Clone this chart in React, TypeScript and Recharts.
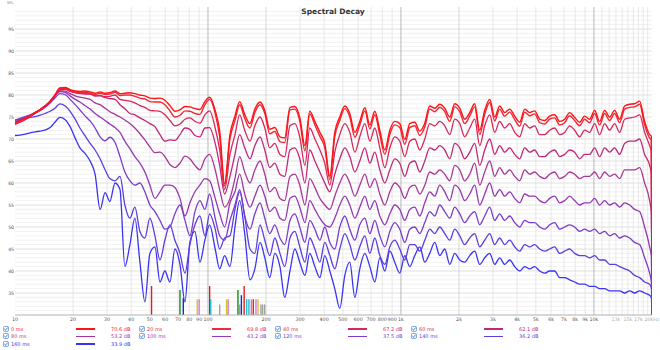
import React from "react";
import { LineChart, Line, XAxis, YAxis, ReferenceLine } from "recharts";

const freqs = [
  10, 10.6, 11.3, 12, 12.7, 13.5, 14.3, 15.2, 16.1, 17.1,
  18.2, 19.3, 20.5, 21.7, 23, 24.5, 26, 27.6, 29.3, 31,
  33, 35, 37.1, 39.4, 41.8, 44.4, 47.1, 50, 53.1, 56.4,
  59.8, 63.5, 67.4, 71.6, 76, 80.6, 85.6, 90.8, 96.4, 102,
  109, 115, 122, 130, 138, 146, 155, 165, 175, 186,
  197, 209, 222, 236, 250, 266, 282, 299, 318, 337,
  358, 380, 403, 428, 454, 482, 512, 543, 577, 612,
  650, 690, 732, 777, 825, 876, 929, 986, 1047, 1111,
  1179, 1252, 1329, 1410, 1497, 1589, 1687, 1790, 1900, 2017,
  2140, 2272, 2411, 2560, 2717, 2884, 3061, 3249, 3449, 3661,
  3886, 4124, 4378, 4647, 4932, 5235, 5557, 5898, 6261, 6645,
  7054, 7487, 7947, 8435, 8954, 9504, 10088, 10708, 11366, 12064,
  12806, 13593, 14428, 15314, 16256, 17254, 18315, 19440,
];

const decay0 = [
  73.7, 74.2, 74.7, 75.3, 76.0, 76.7, 77.5, 78.6, 80.0, 81.6,
  81.7, 81.2, 80.9, 80.8, 80.9, 80.7, 80.4, 80.7, 80.4, 80.5,
  80.9, 80.3, 80.4, 80.5, 80.3, 80.0, 79.8, 79.3, 79.2, 79.3,
  78.8, 77.6, 76.3, 76.6, 77.4, 77.3, 76.9, 76.7, 78.5, 79.5,
  76.5, 71.8, 59.8, 71.0, 75.2, 78.5, 75.6, 73.5, 76.8, 78.4,
  76.5, 72.2, 72.6, 70.5, 70.3, 77.2, 77.4, 74.9, 68.5, 76.3,
  74.0, 71.5, 69.0, 61.5, 71.5, 75.0, 77.5, 75.8, 71.5, 74.0,
  77.1, 73.2, 76.3, 72.0, 67.5, 72.0, 74.0, 73.5, 69.9, 73.5,
  73.8, 71.8, 73.6, 77.5, 77.0, 77.9, 77.0, 75.0, 78.0, 77.0,
  74.5, 76.0, 78.0, 72.0, 76.5, 79.0, 75.0, 77.5, 76.0, 76.8,
  75.2, 73.8, 76.8, 76.0, 76.4, 74.5, 74.2, 75.2, 75.5, 74.0,
  74.5, 76.0, 74.9, 73.8, 75.2, 74.5, 76.5, 74.0, 76.5, 75.0,
  76.5, 74.5, 77.5, 77.9, 78.0, 78.6, 74.0, 71.0,
];

const decay20 = [
  73.4, 73.9, 74.5, 75.2, 75.9, 76.6, 77.4, 78.5, 79.9, 81.5,
  81.6, 81.0, 80.7, 80.5, 80.6, 80.4, 80.1, 80.4, 80.1, 80.2,
  80.6, 79.9, 80.0, 80.0, 79.7, 79.3, 79.1, 78.5, 78.4, 78.4,
  77.8, 76.4, 75.0, 75.4, 76.4, 76.3, 75.8, 75.6, 77.8, 79.0,
  75.8, 70.5, 59.3, 70.0, 74.2, 77.8, 74.7, 72.5, 76.0, 77.8,
  75.8, 71.2, 71.7, 69.4, 69.2, 76.6, 76.8, 74.1, 67.3, 75.7,
  73.2, 70.6, 68.0, 60.8, 70.5, 74.2, 76.9, 75.0, 70.4, 73.2,
  76.4, 72.3, 75.5, 71.0, 66.5, 71.1, 73.2, 72.6, 68.8, 72.6,
  73.0, 70.8, 72.7, 76.8, 76.2, 77.2, 76.2, 74.0, 77.3, 76.2,
  73.5, 75.2, 77.3, 71.0, 75.6, 78.3, 74.1, 76.8, 75.2, 76.1,
  74.4, 72.9, 76.1, 75.3, 75.7, 73.7, 73.4, 74.5, 74.8, 73.2,
  73.7, 75.3, 74.2, 73.0, 74.5, 73.7, 75.8, 73.2, 75.8, 74.2,
  75.8, 73.7, 76.8, 77.2, 77.3, 77.9, 73.2, 70.2,
];

const decay40 = [
  73.3, 73.8, 74.4, 75.1, 75.8, 76.5, 77.3, 78.4, 79.8, 81.4,
  81.5, 80.9, 80.6, 80.4, 80.4, 80.3, 79.8, 79.9, 79.6, 79.7,
  80.0, 79.0, 78.8, 78.6, 78.2, 77.6, 77.2, 76.5, 76.4, 76.3,
  75.5, 74.2, 73.0, 73.4, 74.5, 74.8, 74.0, 73.6, 75.5, 76.4,
  72.5, 67.5, 58.5, 66.5, 71.0, 75.5, 72.0, 69.5, 73.0, 75.0,
  72.5, 68.0, 69.0, 66.5, 66.0, 73.0, 73.5, 70.5, 64.0, 72.5,
  70.0, 67.5, 64.5, 59.5, 67.0, 71.0, 73.5, 71.5, 67.0, 70.5,
  73.5, 69.5, 72.5, 68.0, 63.5, 68.0, 70.5, 69.5, 66.0, 69.5,
  70.0, 67.5, 70.0, 73.5, 73.0, 74.0, 73.0, 71.0, 74.5, 73.5,
  70.5, 72.5, 74.5, 68.5, 73.0, 75.5, 71.5, 74.0, 72.5, 73.5,
  71.5, 70.5, 73.5, 72.5, 73.0, 71.0, 71.0, 72.0, 72.5, 71.0,
  71.5, 73.0, 72.0, 70.5, 72.0, 71.5, 73.5, 71.0, 73.5, 72.0,
  73.5, 71.5, 74.5, 74.8, 75.0, 75.5, 71.5, 68.5,
];

const decay60 = [
  73.5, 74.0, 74.6, 75.2, 75.9, 76.6, 77.4, 78.5, 79.9, 81.3,
  81.3, 80.8, 80.5, 80.3, 80.2, 80.2, 79.8, 79.8, 79.4, 79.2,
  79.0, 77.8, 76.9, 75.8, 75.5, 74.8, 74.2, 73.5, 72.8, 71.0,
  69.5, 69.8, 69.7, 71.0, 72.5, 72.2, 70.8, 70.5, 72.5, 72.6,
  69.0, 64.0, 57.5, 61.5, 66.5, 71.0, 68.0, 65.5, 68.5, 70.5,
  67.5, 63.5, 64.5, 62.0, 61.5, 67.5, 68.0, 65.5, 60.0, 67.5,
  65.0, 62.5, 60.0, 58.0, 62.0, 65.5, 68.0, 66.0, 62.5, 65.0,
  68.0, 64.5, 67.0, 63.0, 60.0, 63.0, 65.5, 64.5, 61.5, 64.5,
  65.0, 62.5, 65.0, 68.0, 67.5, 68.5, 67.5, 65.5, 69.0, 68.0,
  65.5, 67.0, 69.0, 64.0, 67.5, 70.0, 66.5, 68.5, 67.0, 68.0,
  66.5, 65.5, 68.0, 67.0, 67.5, 66.0, 66.0, 67.0, 67.5, 66.0,
  66.5, 67.5, 67.0, 65.5, 66.5, 66.5, 68.0, 66.0, 68.0, 67.0,
  68.0, 66.5, 69.0, 69.5, 69.5, 70.0, 66.5, 64.0,
];

const decay80 = [
  73.8, 74.2, 74.7, 75.3, 76.0, 76.7, 77.5, 78.6, 79.9, 81.0,
  80.9, 80.3, 79.8, 79.5, 79.3, 79.0, 78.2, 77.8, 77.0, 76.2,
  75.6, 75.0, 74.3, 73.5, 72.5, 71.2, 69.8, 68.2, 66.9, 67.0,
  66.0, 64.2, 63.5, 64.5, 66.1, 65.5, 64.0, 63.0, 65.5, 66.5,
  63.0, 58.5, 54.5, 56.5, 61.0, 66.0, 62.5, 60.0, 63.0, 65.0,
  62.0, 58.0, 59.0, 56.5, 56.0, 61.5, 62.0, 59.5, 55.0, 61.0,
  59.0, 56.5, 55.0, 54.0, 57.0, 60.0, 62.0, 60.0, 57.0, 59.5,
  62.0, 59.0, 61.0, 57.5, 55.0, 58.0, 60.0, 59.0, 56.5, 59.0,
  59.5, 57.5, 59.5, 62.5, 62.0, 63.0, 62.0, 60.5, 64.0, 63.0,
  60.5, 62.0, 64.5, 59.5, 62.5, 65.0, 61.5, 63.5, 62.0, 63.0,
  61.5, 60.5, 63.0, 62.0, 62.5, 61.5, 61.0, 62.0, 62.5, 61.0,
  61.5, 62.5, 62.0, 61.0, 61.5, 61.5, 62.5, 61.0, 62.5, 61.5,
  62.0, 61.0, 63.0, 63.0, 63.0, 63.5, 60.0, 56.0,
];

const decay100 = [
  74.0, 74.4, 74.9, 75.4, 76.0, 76.7, 77.5, 78.5, 79.7, 80.8,
  80.6, 79.8, 79.0, 78.4, 77.6, 76.8, 75.8, 75.0, 74.2, 73.4,
  72.6, 71.5, 69.5, 67.8, 66.0, 64.5, 62.5, 59.5, 56.5, 58.0,
  59.5, 59.5, 59.0, 56.5, 52.5, 55.5, 58.0, 59.5, 61.0, 60.5,
  56.5, 53.0, 50.0, 55.5, 58.0, 62.0, 57.5, 54.5, 57.0, 59.5,
  57.0, 53.5, 54.5, 52.0, 51.5, 56.5, 57.0, 54.5, 51.0, 56.0,
  54.0, 52.0, 50.5, 50.0, 52.0, 55.0, 57.0, 55.0, 52.0, 54.5,
  57.0, 54.0, 56.0, 52.5, 50.5, 53.0, 55.0, 54.0, 51.5, 54.0,
  54.5, 52.5, 55.5, 58.0, 57.0, 59.5, 58.0, 56.0, 59.5, 58.5,
  56.0, 57.5, 59.5, 55.0, 57.5, 60.0, 57.0, 58.5, 57.0, 58.0,
  56.5, 55.5, 57.5, 57.0, 57.0, 56.0, 55.5, 56.5, 57.0, 55.5,
  56.0, 57.0, 56.0, 55.0, 55.5, 55.5, 56.5, 55.0, 56.0, 55.0,
  55.5, 54.5, 55.5, 55.0, 54.0, 53.5, 50.0, 45.5,
];

const decay120 = [
  74.3, 74.7, 75.1, 75.5, 76.0, 76.5, 77.2, 78.2, 79.3, 80.3,
  80.1, 79.0, 77.8, 76.6, 75.3, 74.1, 72.5, 70.5, 69.6, 70.4,
  69.2, 66.0, 62.5, 60.5, 59.5, 60.0, 58.0, 55.0, 53.5, 51.5,
  49.5, 50.0, 53.0, 55.0, 51.5, 48.0, 53.5, 56.0, 54.0, 57.5,
  52.0, 48.0, 47.0, 51.5, 55.0, 58.5, 52.5, 49.5, 53.0, 55.5,
  52.0, 48.5, 50.5, 47.5, 46.0, 51.5, 53.0, 50.0, 46.5, 51.5,
  49.5, 47.0, 50.0, 46.5, 45.0, 50.0, 52.5, 49.5, 47.0, 50.5,
  52.0, 48.5, 51.5, 48.0, 45.5, 49.0, 51.0, 49.5, 46.5, 49.5,
  50.0, 48.5, 51.0, 53.5, 52.5, 55.0, 53.5, 52.0, 54.5, 53.0,
  51.0, 52.5, 53.5, 50.5, 52.5, 54.5, 51.5, 53.0, 51.5, 52.5,
  51.0, 50.0, 51.5, 51.0, 51.0, 50.0, 49.5, 50.5, 51.0, 49.5,
  50.0, 50.5, 50.0, 49.0, 49.5, 49.0, 49.5, 48.5, 49.0, 48.0,
  48.5, 47.5, 48.0, 47.5, 46.5, 46.0, 43.0, 39.5,
];

const decay140 = [
  74.3, 74.5, 74.7, 74.9, 75.1, 75.4, 75.8, 76.3, 77.0, 78.0,
  77.5, 76.3, 74.5, 72.5, 70.8, 69.0, 67.5, 65.5, 63.0, 61.0,
  60.5, 61.5, 55.0, 52.0, 54.5, 49.0, 47.5, 52.0, 48.0, 42.5,
  47.0, 50.5, 47.0, 44.0, 39.5, 46.0, 50.5, 52.5, 48.0, 53.0,
  49.5, 45.0, 47.5, 48.0, 54.0, 58.0, 52.5, 45.0, 44.0, 50.5,
  47.0, 43.5, 47.5, 44.0, 41.0, 47.5, 49.0, 45.5, 42.0, 47.5,
  45.0, 42.0, 46.5, 43.5, 40.5, 45.0, 48.5, 46.0, 42.5, 45.5,
  48.0, 44.0, 47.5, 43.5, 41.5, 45.5, 47.0, 45.0, 42.5, 46.0,
  46.0, 44.5, 47.0, 49.5, 48.5, 50.0, 48.5, 47.0, 49.5, 48.0,
  46.0, 47.5, 48.5, 45.5, 47.0, 48.5, 46.0, 47.5, 46.0, 47.0,
  45.5, 44.5, 46.0, 45.5, 46.0, 45.0, 44.5, 45.0, 45.5, 44.0,
  44.5, 45.0, 44.0, 43.5, 43.5, 43.0, 43.5, 42.5, 42.5, 41.5,
  41.5, 41.0, 40.5, 40.0, 39.0, 38.5, 37.5, 37.0,
];

const decay160 = [
  70.8, 70.9, 71.1, 71.4, 71.6, 71.8, 72.0, 72.6, 73.8, 74.9,
  74.4, 72.8, 70.2, 68.0, 66.8, 65.0, 62.0, 54.0, 57.8, 55.8,
  60.0, 58.5, 41.0, 46.0, 52.0, 42.0, 33.0, 44.0, 45.5, 37.5,
  40.0, 37.5, 45.0, 41.5, 33.0, 46.5, 49.0, 42.0, 47.0, 50.5,
  45.0, 40.5, 43.5, 41.0, 50.0, 56.0, 48.5, 38.0, 40.5, 46.5,
  43.0, 38.5, 44.0, 41.0, 34.0, 40.0, 45.0, 42.0, 39.0, 44.0,
  41.0, 38.5, 43.5, 40.0, 36.0, 31.5, 39.0, 42.0, 34.0, 40.5,
  44.0, 41.0, 37.5, 43.0, 40.0, 44.5, 42.0, 39.5, 43.5, 41.0,
  43.5, 45.5, 42.0, 44.0, 46.5, 43.5, 45.0, 41.5, 44.0, 42.5,
  42.0, 43.5, 44.5, 41.5, 43.0, 44.0, 41.5, 43.0, 41.5, 42.5,
  41.0, 40.0, 41.0, 40.5, 41.0, 40.0, 39.5, 40.0, 40.0, 38.5,
  38.5, 38.0, 37.5, 37.0, 37.0, 36.5, 36.5, 36.0, 36.0, 35.5,
  35.5, 35.5, 35.0, 35.5, 35.0, 35.5, 35.0, 34.5,
];

// legend / cursor values at 20 kHz
const seriesNames = ["0 ms", "20 ms", "40 ms", "60 ms", "80 ms", "100 ms", "120 ms", "140 ms", "160 ms"];
const cursorValues = [70.6, 69.8, 67.2, 62.1, 53.2, 43.2, 37.5, 36.2, 33.9];
const seriesColors = ["#ff1414", "#f0283c", "#d8285a", "#c02878", "#a83898", "#9438b4", "#7a3ccc", "#5e3ce0", "#3a34f2"];
const seriesData = [decay0, decay20, decay40, decay60, decay80, decay100, decay120, decay140, decay160];

// room mode markers
const modeFreqs = [51, 71.6, 74.5, 88, 90, 102, 103.4, 115, 124.8, 127.2, 143, 146, 149, 154, 158.7, 163, 167.7, 171.7, 177.3, 181.6, 188.2, 192, 196.7];
const modeLevels = [36.6, 35.7, 33.9, 33.6, 33.6, 36.6, 33.6, 32.4, 33.6, 33.6, 35.7, 32.4, 34.5, 36.6, 33.6, 33.6, 33.6, 33.6, 33.6, 33.6, 32.4, 32.4, 32.4];
const modeColors = ["#e02020", "#109010", "#2020e0", "#cccc20", "#e070e0", "#e02020", "#20c0d0", "#a0a0a0", "#cccc20", "#e070e0", "#109010", "#a0a0a0", "#2020e0", "#e02020", "#20c0d0", "#20c0d0", "#e070e0", "#e02020", "#e070e0", "#cccc20", "#a0a0a0", "#a0a0a0", "#a0a0a0"];

const xTicks = [10, 20, 30, 40, 50, 60, 70, 80, 90, 100, 200, 300, 400, 500, 600, 700, 800, 900, 1000, 2000, 3000, 4000, 5000, 6000, 7000, 8000, 9000, 10000, 13000, 15000, 17000, 20000];
const xTickLabels = ["10", "20", "30", "40", "50", "60", "70", "80", "90", "100", "200", "300", "400", "500", "600", "700", "800", "900", "1k", "2k", "3k", "4k", "5k", "6k", "7k", "8k", "9k", "10k", "13k", "15k", "17k", "20kHz"];
const yTicks = [35, 40, 45, 50, 55, 60, 65, 70, 75, 80, 85, 90, 95];

const vGrid = [
  20, 30, 40, 50, 60, 70, 80, 90, 100, 200, 300, 400, 500, 600, 700, 800, 900, 1000,
  2000, 3000, 4000, 5000, 6000, 7000, 8000, 9000, 10000, 11000, 12000, 13000, 14000, 15000, 16000, 17000, 18000, 19000,
];
const hGrid = Array.from({ length: 69 }, (_, i) => 31 + i);

const keys = ["d0", "d20", "d40", "d60", "d80", "d100", "d120", "d140", "d160"];

const rows: Record<string, number>[] = freqs.map((f, i) => {
  const r: Record<string, number> = { f };
  keys.forEach((k, j) => (r[k] = seriesData[j][i]));
  return r;
});
{
  const end: Record<string, number> = { f: 19850 };
  const drop: Record<string, number> = { f: 20000 };
  keys.forEach((k, j) => {
    end[k] = cursorValues[j];
    drop[k] = 30;
  });
  rows.push(end, drop);
}

const vGridColor = (f: number) => {
  if (f === 100 || f === 1000 || f === 10000) return "#a8a8a8";
  if (f === 200 || f === 2000) return "#cfcfcf";
  return "#e2e2e2";
};

const XTick = (props: any) => {
  const { x, y, payload } = props;
  const i = xTicks.indexOf(payload.value);
  const light = payload.value > 10000;
  return (
    <text x={x} y={y + 4} textAnchor="middle" fontSize={4.8} fill={light ? "#aaaaaa" : "#555555"} fontFamily="DejaVu Sans, sans-serif">
      {i >= 0 ? xTickLabels[i] : ""}
    </text>
  );
};

const YTick = (props: any) => {
  const { x, y, payload } = props;
  return (
    <text x={x} y={y + 1.6} textAnchor="end" fontSize={4.6} fill="#555555" fontFamily="DejaVu Sans, sans-serif">
      {payload.value}
    </text>
  );
};

const CheckBox = () => (
  <svg width={6} height={6} style={{ position: "absolute", left: 0, top: -0.5 }}>
    <rect x={0.4} y={0.4} width={5} height={5} rx={1} fill="#ffffff" stroke="#3a78d8" strokeWidth={0.7} />
    <path d="M1.3 3 L2.5 4.2 L4.6 1.6" stroke="#3a78d8" strokeWidth={0.9} fill="none" />
  </svg>
);

export default function App() {
  const rowYs = [329, 336.5, 344];
  return (
    <div style={{ position: "relative", width: 660, height: 350, background: "#ffffff", fontFamily: "DejaVu Sans, sans-serif" }}>
      <style>{"body{margin:0;background:#fff}"}</style>
      <LineChart width={660} height={350} data={rows} margin={{ top: 7, right: 8, bottom: 25, left: 0 }}>
        {hGrid.map((v) => (
          <ReferenceLine key={"h" + v} y={v} stroke={v % 5 === 0 ? "#d8d8d8" : "#eeeeee"} strokeWidth={0.8} />
        ))}
        {vGrid.map((f) => (
          <ReferenceLine key={"v" + f} x={f} stroke={vGridColor(f)} strokeWidth={0.8} />
        ))}
        <XAxis
          dataKey="f"
          type="number"
          scale="log"
          domain={[10, 20000]}
          ticks={xTicks}
          allowDataOverflow
          height={10}
          tickSize={0}
          tick={<XTick />}
          axisLine={{ stroke: "#b0b0b0" }}
          tickLine={false}
          interval={0}
        />
        <YAxis
          type="number"
          domain={[30, 100]}
          ticks={yTicks}
          allowDataOverflow
          width={15}
          tickSize={0}
          tickMargin={1}
          tick={<YTick />}
          axisLine={false}
          tickLine={false}
          interval={0}
        />
        {modeFreqs.map((f, i) => (
          <ReferenceLine
            key={"m" + i}
            segment={[{ x: f, y: 30 }, { x: f, y: modeLevels[i] }]}
            stroke={modeColors[i]}
            strokeWidth={1.4}
          />
        ))}
        {keys
          .map((k, j) => ({ k, j }))
          .reverse()
          .map(({ k, j }) => (
            <Line
              key={k}
              dataKey={k}
              type="monotone"
              stroke={seriesColors[j]}
              strokeWidth={j < 2 ? 1.4 : 1.3}
              dot={false}
              isAnimationActive={false}
            />
          ))}
      </LineChart>
      <div style={{ position: "absolute", left: 7, top: 1, fontSize: 3.6, color: "#777" }}>SPL</div>
      <div
        style={{
          position: "absolute",
          left: 233,
          width: 200,
          top: 7,
          textAlign: "center",
          fontSize: 7.5,
          fontWeight: 700,
          color: "#333",
          fontFamily: "DejaVu Sans, sans-serif",
        }}
      >
        Spectral Decay
      </div>
      {seriesNames.map((name, i) => {
        const col = i % 4;
        const row = Math.floor(i / 4);
        const left = 3 + 136 * col;
        const top = rowYs[row] - 3;
        return (
          <div key={name} style={{ position: "absolute", left, top, width: 130, height: 6 }}>
            <CheckBox />
            <div style={{ position: "absolute", left: 8, top: -0.5, fontSize: 5, lineHeight: "6px", color: seriesColors[i], whiteSpace: "nowrap" }}>
              {name}
            </div>
            <div style={{ position: "absolute", left: 73, top: 2.2, width: 19, height: 1.6, background: seriesColors[i] }} />
            <div style={{ position: "absolute", left: 108, top: -0.5, fontSize: 5, lineHeight: "6px", color: seriesColors[i], whiteSpace: "nowrap" }}>
              {cursorValues[i].toFixed(1)} dB
            </div>
          </div>
        );
      })}
    </div>
  );
}
